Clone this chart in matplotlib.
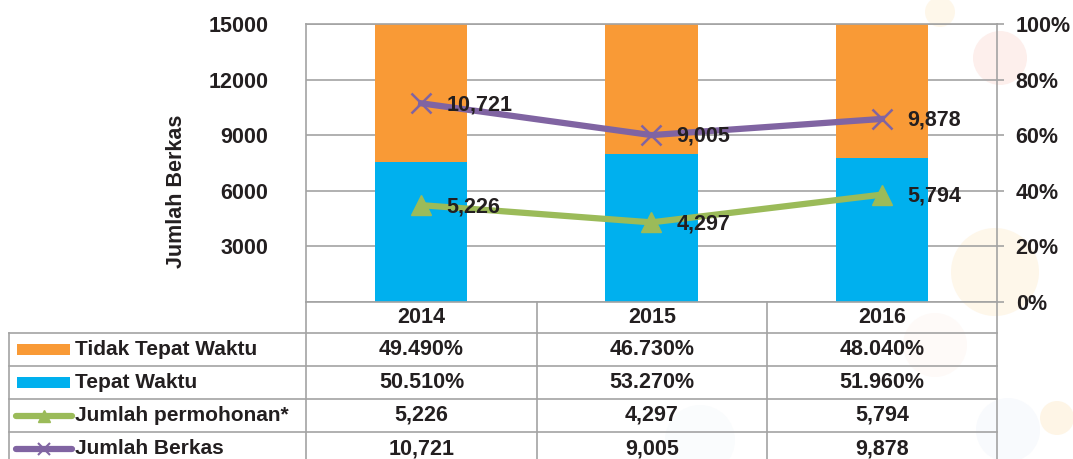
import matplotlib
matplotlib.use("Agg")
import matplotlib.pyplot as plt
from matplotlib.patches import Rectangle, Circle
from matplotlib.lines import Line2D

plt.rcParams['font.family'] = ['Liberation Sans', 'DejaVu Sans']
plt.rcParams['font.weight'] = 'bold'
plt.rcParams['axes.labelweight'] = 'bold'

# data
years = ['2014', '2015', '2016']
tidak_tepat = [49.49, 46.73, 48.04]
tepat = [50.51, 53.27, 51.96]
permohonan = [5226, 4297, 5794]
berkas = [10721, 9005, 9878]

C_ORANGE = '#F99A36'
C_BLUE = '#00B0EE'
C_GREEN = '#9BBB59'
C_PURPLE = '#8064A2'
C_GRID = '#A3A3A3'
C_TEXT = '#231F20'
FS = 15.5

W, H = 1073, 459
fig = plt.figure(figsize=(W / 100, H / 100), dpi=100)

# faint decorative background
bg = fig.add_axes([0, 0, 1, 1], zorder=0)
bg.set_xlim(0, W)
bg.set_ylim(H, 0)
bg.axis('off')
for (cx, cy, r, col) in [(940, 12, 15, '#FEF7EA'), (1000, 58, 27, '#FDEFEC'),
                         (995, 272, 44, '#FEF7EA'), (1057, 418, 17, '#FEF5E6'),
                         (1008, 430, 32, '#F8FAFD'), (935, 345, 32, '#FEFAF8'),
                         (700, 440, 35, '#FAFCFD')]:
    bg.add_patch(Circle((cx, cy), r, color=col, lw=0))

# main plot area
L, R, T, B = 306, 997, 24, 302
ax = fig.add_axes([L / W, (H - B) / H, (R - L) / W, (B - T) / H], zorder=2)
ax.patch.set_visible(False)
ax2 = ax.twinx()

x = list(range(len(years)))
ax.bar(x, tepat, width=0.4, color=C_BLUE, zorder=2)
ax.bar(x, tidak_tepat, width=0.4, bottom=tepat, color=C_ORANGE, zorder=2)
ax.set_xlim(-0.5, 2.5)
ax.set_ylim(0, 100)
ax.set_xticks([])
ax.set_yticks(range(0, 101, 20))
ax.set_yticklabels([f'{v}%' for v in range(0, 101, 20)])
ax.yaxis.tick_right()
ax.tick_params(axis='y', direction='out', length=5, width=1.2, color=C_GRID,
               labelsize=FS, labelcolor=C_TEXT, pad=8.5)
ax.grid(axis='y', color=C_GRID, lw=1.2)
ax.set_axisbelow(True)
for s in ax.spines.values():
    s.set_color(C_GRID)
    s.set_linewidth(1.2)

ax2.plot(x, permohonan, color=C_GREEN, lw=4.5, marker='^', ms=15, zorder=3)
ax2.plot(x, berkas, color=C_PURPLE, lw=4.5, marker='x', ms=15, mew=1.8, zorder=3)
for xi, v in zip(x, permohonan):
    ax2.annotate(f'{v:,}', (xi, v), xytext=(18, -1), textcoords='offset points',
                 va='center', ha='left', fontsize=FS, color=C_TEXT)
for xi, v in zip(x, berkas):
    ax2.annotate(f'{v:,}', (xi, v), xytext=(18, -1), textcoords='offset points',
                 va='center', ha='left', fontsize=FS, color=C_TEXT)
ax2.set_ylim(0, 15000)
ax2.set_yticks(range(3000, 15001, 3000))
ax2.yaxis.tick_left()
ax2.yaxis.set_label_position('left')
ax2.tick_params(axis='y', length=0, labelsize=FS, labelcolor=C_TEXT, pad=27)
ax2.set_ylabel('Jumlah Berkas', fontsize=FS, color=C_TEXT, fontweight='bold')
ax2.yaxis.set_label_coords((187 - L) / (R - L), (B - 191) / (B - T))
for s in ax2.spines.values():
    s.set_visible(False)

# data table below the chart
tb = fig.add_axes([0, 0, 1, 1], zorder=3)
tb.set_xlim(0, W)
tb.set_ylim(H, 0)
tb.axis('off')
col_x = [306, 537, 767, 997]
row_y = [302, 333, 366, 399, 432, 465]
left = 9
lk = dict(color=C_GRID, lw=1.2)
for cx in col_x:
    tb.plot([cx, cx], [row_y[0], row_y[-1]], **lk)
tb.plot([left, left], [row_y[1], row_y[-1]], **lk)
for ry in row_y[1:]:
    tb.plot([left, col_x[-1]], [ry, ry], **lk)

def center(i):
    return (row_y[i] + row_y[i + 1]) / 2

for j, yr in enumerate(years):
    tb.text((col_x[j] + col_x[j + 1]) / 2, center(0), yr, ha='center', va='center',
            fontsize=FS, color=C_TEXT)

rows = [
    ('Tidak Tepat Waktu', [f'{v:.3f}%' for v in tidak_tepat]),
    ('Tepat Waktu', [f'{v:.3f}%' for v in tepat]),
    ('Jumlah permohonan*', [f'{v:,}' for v in permohonan]),
    ('Jumlah Berkas', [f'{v:,}' for v in berkas]),
]
for i, (name, vals) in enumerate(rows, start=1):
    cy = center(i)
    tb.text(75, cy, name, ha='left', va='center', fontsize=15, color=C_TEXT)
    for j, s in enumerate(vals):
        tb.text((col_x[j] + col_x[j + 1]) / 2, cy, s, ha='center', va='center',
                fontsize=FS, color=C_TEXT)

# legend keys inside the table
tb.add_patch(Rectangle((17, center(1) - 5.5), 53, 11, color=C_ORANGE, lw=0))
tb.add_patch(Rectangle((17, center(2) - 5.5), 53, 11, color=C_BLUE, lw=0))
tb.add_line(Line2D([16, 72], [center(3), center(3)], color=C_GREEN, lw=4.5,
                   solid_capstyle='round'))
tb.plot([44], [center(3)], marker='^', color=C_GREEN, ms=9)
tb.add_line(Line2D([16, 72], [center(4), center(4)], color=C_PURPLE, lw=4.5,
                   solid_capstyle='round'))
tb.plot([44], [center(4)], marker='x', color=C_PURPLE, ms=9, mew=1.5)

fig.savefig('out.png', dpi=100)
